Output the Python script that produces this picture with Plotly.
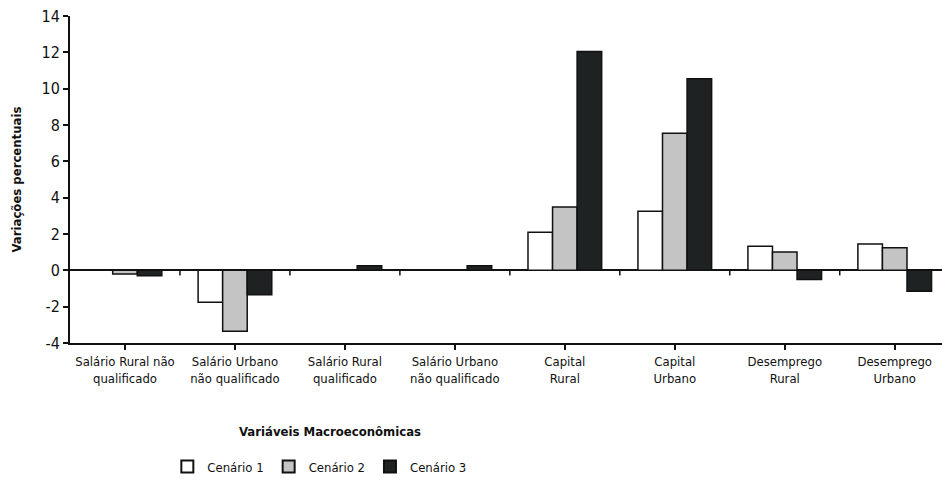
import plotly.graph_objects as go

categories = ["Salário Rural não<br>qualificado", "Salário Urbano<br>não qualificado",
              "Salário Rural<br>qualificado", "Salário Urbano<br>não qualificado",
              "Capital<br>Rural", "Capital<br>Urbano", "Desemprego<br>Rural", "Desemprego<br>Urbano"]
cenario1 = [0.0, -1.75, 0.0, 0.0, 2.1, 3.25, 1.32, 1.45]
cenario2 = [-0.2, -3.35, 0.0, 0.0, 3.48, 7.55, 1.01, 1.25]
cenario3 = [-0.3, -1.35, 0.25, 0.25, 12.05, 10.55, -0.5, -1.15]
series_names = ["Cenário 1", "Cenário 2", "Cenário 3"]
colors = ["#ffffff", "#c4c4c4", "#1e2222"]
y_ticks = [-4, -2, 0, 2, 4, 6, 8, 10, 12, 14]
y_ticklabels = ["-4", "-2", "0", "2", "4", "6", "8", "10", "12", "14"]

FONT = "DejaVu Sans Condensed, Liberation Sans Narrow, Arial Narrow, sans-serif"
x = list(range(len(categories)))

fig = go.Figure()
for name, vals, col in zip(series_names, [cenario1, cenario2, cenario3], colors):
    fig.add_trace(go.Bar(x=x, y=vals, name=name,
                         marker=dict(color=col, line=dict(color="#111111", width=1.5))))

shapes = []
for i in range(1, len(categories)):
    shapes.append(dict(type="line", xref="x", yref="y", x0=i - 0.5, x1=i - 0.5,
                       y0=0, y1=-0.28, line=dict(color="#111111", width=1.5)))

fig.update_layout(
    width=942, height=483,
    margin=dict(l=70, r=0, t=16, b=140),
    paper_bgcolor="white", plot_bgcolor="white",
    barmode="group", bargap=0.33, bargroupgap=0,
    font=dict(family=FONT, color="#111111", size=13),
    showlegend=True,
    legend=dict(orientation="h", xref="container", yref="container",
                x=0.339, y=0.003, xanchor="center", yanchor="bottom",
                font=dict(size=13, family=FONT), itemsizing="constant",
                traceorder="normal", itemwidth=30, tracegroupgap=0),
    shapes=shapes,
    annotations=[
        dict(text="<b>Variações percentuais</b>", xref="paper", yref="paper",
             x=-0.0608, y=0.5, textangle=-90, showarrow=False,
             xanchor="center", yanchor="middle", font=dict(size=13, family=FONT)),
        dict(text="<b>Variáveis Macroeconômicas</b>", xref="paper", yref="paper",
             x=0.298, y=-0.27, showarrow=False,
             xanchor="center", yanchor="middle", font=dict(size=13, family=FONT)),
    ],
)
fig.update_xaxes(
    range=[-0.5, 7.43], tickmode="array", tickvals=x, ticktext=categories,
    tickson="boundaries", ticks="outside", ticklen=5, tickwidth=1.5, tickcolor="#111111",
    showline=True, linecolor="#111111", linewidth=2, showgrid=False, zeroline=False,
    tickfont=dict(size=13, family=FONT), automargin=False,
)
fig.update_yaxes(
    range=[-4, 14], tickmode="array", tickvals=y_ticks, ticktext=y_ticklabels,
    ticks="outside", ticklen=5, tickwidth=1.5, tickcolor="#111111",
    showline=True, linecolor="#111111", linewidth=2, showgrid=False,
    zeroline=True, zerolinecolor="#111111", zerolinewidth=1.5,
    tickfont=dict(size=16, family=FONT), automargin=False,
)
# remove the default 8px page margin so the 942x483 figure fills the window
fig.write_html("out.html", config={"displayModeBar": False},
               post_script="document.body.style.margin='0';")
